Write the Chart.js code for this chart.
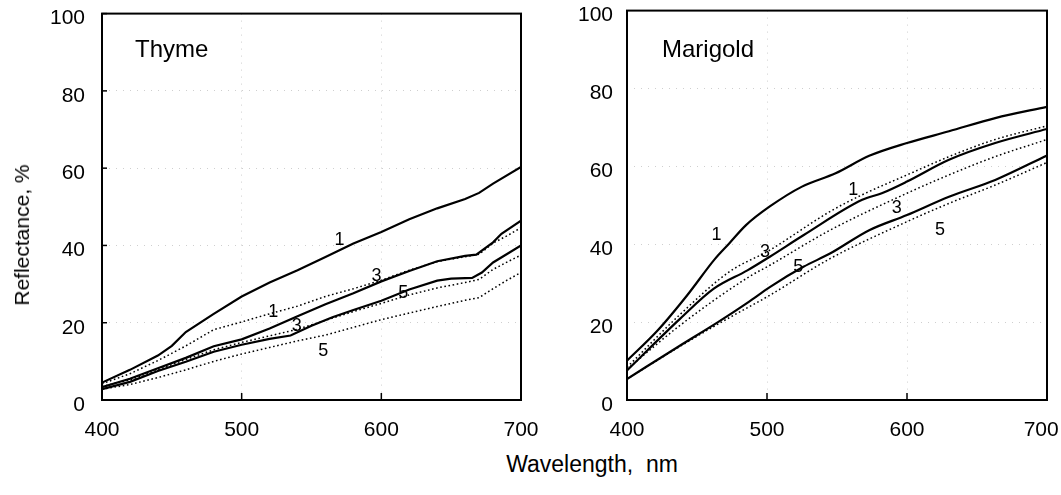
<!DOCTYPE html>
<html>
<head>
<meta charset="utf-8">
<script src="https://cdn.jsdelivr.net/npm/chart.js@4/dist/chart.umd.min.js"></script>
<style>
  html, body { margin: 0; padding: 0; background: #fff; overflow: hidden; }
  body { width: 1061px; height: 495px; position: relative; font-family: "Liberation Sans", Arial, sans-serif; color: #000; }
  .box { position: absolute; top: -16px; height: 466px; }
  #leftBox { left: 0; width: 557px; }
  #rightBox { left: 540px; width: 549px; }
  .panelName { position: absolute; font-size: 24px; }
  #yTitle { position: absolute; left: 22px; top: 235px; font-size: 21px; white-space: nowrap;
            transform: translate(-50%, -50%) rotate(-90deg); }
  #xTitle { position: absolute; left: 592px; top: 464px; font-size: 23px; white-space: pre;
            transform: translate(-50%, -50%); }
</style>
</head>
<body>
<div class="box" id="leftBox"><canvas id="thymeChart" width="557" height="466"></canvas></div>
<div class="box" id="rightBox"><canvas id="marigoldChart" width="549" height="466"></canvas></div>
<div class="panelName" style="left:135px; top:35px;">Thyme</div>
<div class="panelName" style="left:662px; top:35px;">Marigold</div>
<div id="yTitle">Reflectance, %</div>
<div id="xTitle">Wavelength,  nm</div>

<script>
// Thyme curves: [wavelength nm, reflectance %]
const thymeSolid1 = [[400,4.5],[420,7.8],[440,11.5],[450,14],[460,17.6],[480,22.3],[500,26.8],[520,30.4],[540,33.6],[560,37],[580,40.5],[600,43.5],[620,46.8],[640,49.6],[660,52],[670,53.6],[680,56],[700,60.3]];
const thymeDotted1 = [[400,4.2],[420,6.8],[440,10.2],[460,14],[480,18.2],[500,20.2],[515,21.8],[540,24.3],[560,26.8],[580,28.8],[600,31],[620,33.6],[640,35.8],[660,37.1],[670,37.7],[680,40.6],[690,42.5],[700,44.6]];
const thymeSolid3 = [[400,3.3],[420,5.5],[440,8.2],[460,10.9],[480,13.9],[500,15.7],[520,18.5],[540,21.7],[560,24.8],[580,27.6],[600,30.7],[620,33.4],[640,35.9],[660,37.3],[668,37.6],[680,40.8],[686,43],[700,46.4]];
const thymeDotted3 = [[400,3.5],[420,5.2],[440,7.8],[460,10.5],[480,13],[500,14.9],[520,16.6],[540,18.3],[560,20.6],[580,22.9],[600,25],[620,27.2],[640,29],[660,30.4],[670,31.2],[680,33.8],[690,35.7],[700,37.5]];
const thymeSolid5 = [[400,2.8],[420,4.7],[440,7.5],[460,9.9],[480,12.5],[500,14.3],[520,15.8],[535,16.7],[550,19.2],[565,21.4],[580,23.3],[600,25.7],[620,28.6],[640,30.9],[650,31.4],[665,31.6],[672,33],[680,35.6],[690,37.8],[700,40]];
const thymeDotted5 = [[400,2.8],[420,4],[440,5.8],[460,7.8],[480,10],[500,11.9],[520,13.6],[540,15.3],[560,16.8],[580,18.8],[600,20.8],[620,22.5],[640,24.2],[660,25.8],[670,26.5],[680,28.8],[690,31],[700,33]];

// Marigold curves
const marigoldSolid1 = [[400,10.1],[422,17.9],[443,26.9],[463,36.3],[473,40.2],[485,44.9],[502,49.7],[525,54.8],[549,58.2],[573,62.7],[600,66],[630,69],[663,72.4],[700,75.3]];
const marigoldDotted1 = [[400,8.4],[438,22],[473,32.9],[502,38.5],[545,48.4],[568,52.7],[600,57.8],[630,62.5],[663,66.9],[700,70.4]];
const marigoldSolid3 = [[400,7.6],[438,20.9],[462,28.6],[486,33.3],[502,36.8],[526,42.3],[568,51.4],[582,53.1],[600,56.1],[630,61.7],[663,66],[700,69.6]];
const marigoldDotted3 = [[400,7.9],[438,19.2],[487,31.6],[502,34.6],[545,43.6],[600,53.1],[630,57.8],[663,62.5],[700,66.9]];
const marigoldSolid5 = [[400,5.4],[438,14],[465,20],[487,25.2],[502,29],[526,34.2],[545,37.6],[573,43.6],[600,47.5],[630,52.2],[663,56.5],[700,62.8]];
const marigoldDotted5 = [[400,5.4],[438,13.8],[465,19.5],[502,26.9],[545,36.3],[600,45.8],[630,50.5],[663,55.2],[700,61]];

// curve numbers written next to the lines: [wavelength, reflectance, text]
const thymeTags = [[570,41.5,'1'],[522.6,22.8,'1'],[596.6,32,'3'],[615.7,27.8,'5'],[539.4,19.1,'3'],[558.4,12.7,'5']];
const marigoldTags = [[464,42.3,'1'],[498.6,38.1,'3'],[561.6,53.9,'1'],[522.4,34.2,'5'],[592.6,49.2,'3'],[623.6,43.6,'5']];

const wavelengthTicks = [400, 500, 600, 700];
const reflectanceTicks = [0, 20, 40, 60, 80, 100];

const FONT = '"Liberation Sans", Arial, sans-serif';

function toPoints(pairs) {
  return pairs.map(p => ({ x: p[0], y: p[1] }));
}

function solid(pairs, smooth) {
  return { data: toPoints(pairs), borderColor: '#000', borderWidth: 2.2, pointRadius: 0,
           cubicInterpolationMode: smooth ? 'monotone' : 'default', tension: 0 };
}

function dotted(pairs, smooth) {
  return { data: toPoints(pairs), borderColor: '#000', borderWidth: 1.5, borderDash: [1.6, 2.6], pointRadius: 0,
           cubicInterpolationMode: smooth ? 'monotone' : 'default', tension: 0 };
}

// frame, inward ticks and the curve numbers
const panelDecor = {
  id: 'panelDecor',
  afterDatasetsDraw(chart, args, opts) {
    const { ctx, chartArea: a, scales: { x, y } } = chart;
    ctx.save();
    ctx.strokeStyle = '#000';
    ctx.lineWidth = 1.5;
    x.ticks.forEach(t => {
      const px = x.getPixelForValue(t.value);
      ctx.beginPath(); ctx.moveTo(px, a.bottom); ctx.lineTo(px, a.bottom - 7); ctx.stroke();
    });
    if (opts.yTicks) {
      y.ticks.forEach(t => {
        const py = y.getPixelForValue(t.value);
        ctx.beginPath(); ctx.moveTo(a.left, py); ctx.lineTo(a.left + 5, py); ctx.stroke();
      });
    }
    ctx.lineWidth = 2;
    ctx.strokeRect(a.left, a.top, a.right - a.left, a.bottom - a.top);
    ctx.fillStyle = '#000';
    ctx.font = '18px ' + FONT;
    ctx.textAlign = 'center';
    ctx.textBaseline = 'middle';
    opts.tags.forEach(([wl, r, s]) => {
      ctx.fillText(s, x.getPixelForValue(wl), y.getPixelForValue(r));
    });
    ctx.restore();
  }
};

function makePanel(canvasId, datasets, tags, axisWidth, labelGap, padRight, yTicks, xLabel) {
  return new Chart(document.getElementById(canvasId), {
    type: 'line',
    data: { datasets: datasets },
    options: {
      responsive: false,
      animation: false,
      layout: { padding: { top: 13, right: padRight, bottom: 0, left: 0 } },
      scales: {
        x: {
          type: 'linear', min: 400, max: 700,
          afterBuildTicks: s => { s.ticks = wavelengthTicks.map(v => ({ value: v })); },
          afterFit: s => { s.height = 50; },
          grid: { drawTicks: false, color: '#cfcfcf', lineWidth: 1 },
          border: { display: false, dash: [1, 6] },
          ticks: { color: '#000', font: { family: FONT, size: 21 }, padding: 18, maxRotation: 0, callback: xLabel }
        },
        y: {
          type: 'linear', min: 0, max: 100,
          afterBuildTicks: s => { s.ticks = reflectanceTicks.map(v => ({ value: v })); },
          afterFit: s => { s.width = axisWidth; },
          grid: { drawTicks: false, color: '#cfcfcf', lineWidth: 1 },
          border: { display: false, dash: [1, 6] },
          ticks: { color: '#000', font: { family: FONT, size: 21 }, padding: labelGap, labelOffset: 5 }
        }
      },
      plugins: {
        legend: { display: false },
        tooltip: { enabled: false },
        panelDecor: { tags: tags, yTicks: yTicks }
      }
    },
    plugins: [panelDecor]
  });
}

makePanel('thymeChart', [
  solid(thymeSolid1), dotted(thymeDotted1),
  solid(thymeSolid3), dotted(thymeDotted3),
  solid(thymeSolid5), dotted(thymeDotted5)
], thymeTags, 102, 17, 36, true, v => String(v));

// the last label on the right panel sits a little left of its tick so it stays on the page
makePanel('marigoldChart', [
  solid(marigoldSolid1, true), dotted(marigoldDotted1, true),
  solid(marigoldSolid3, true), dotted(marigoldDotted3, true),
  solid(marigoldSolid5, true), dotted(marigoldDotted5, true)
], marigoldTags, 87, 14, 42, false, v => v === 700 ? '700\u00a0\u00a0' : String(v));
</script>
</body>
</html>
